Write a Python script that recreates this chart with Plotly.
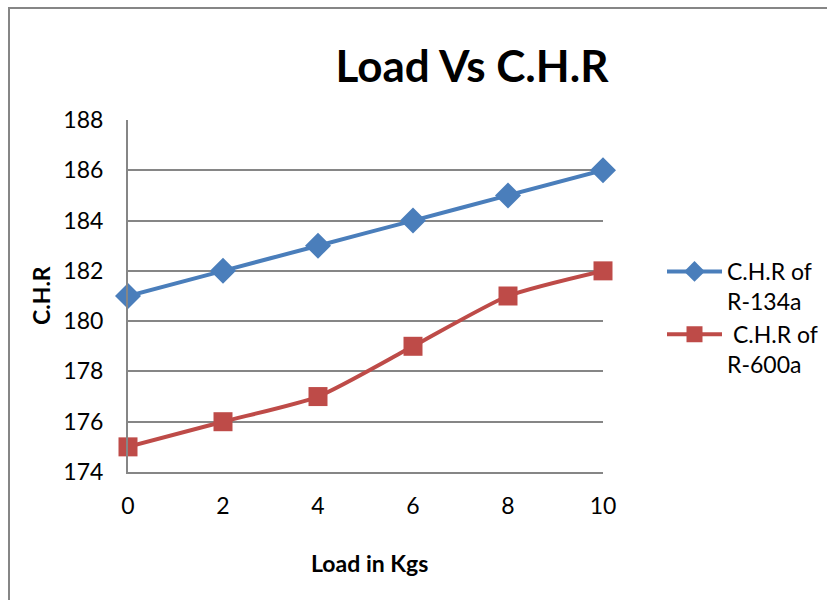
import plotly.graph_objects as go

load = [0, 2, 4, 6, 8, 10]
chr_r134a = [181, 182, 183, 184, 185, 186]
chr_r600a = [175, 176, 177, 179, 181, 182]
y_ticks = [174, 176, 178, 180, 182, 184, 186, 188]
x_ticks = [0, 2, 4, 6, 8, 10]

W, H = 827, 600
L, R, T, B = 128, 603, 120, 472
pw, ph = R - L, B - T

def px(x):
    return (x - L) / pw

def py(y):
    return (B - y) / ph

FONT = "Lato, 'Open Sans', sans-serif"

fig = go.Figure()
fig.add_trace(go.Scatter(
    x=load, y=chr_r134a, mode="lines+markers", name="C.H.R of<br>R-134a",
    line=dict(color="#4A7EBB", width=4, shape="spline", smoothing=0.5),
    marker=dict(symbol="diamond", size=20, color="#4A7EBB"),
    cliponaxis=False,
))
fig.add_trace(go.Scatter(
    x=load, y=chr_r600a, mode="lines+markers", name=" C.H.R of<br>R-600a",
    line=dict(color="#BE4B48", width=4, shape="spline", smoothing=0.6),
    marker=dict(symbol="square", size=19, color="#BE4B48"),
    cliponaxis=False,
))

fig.update_layout(
    width=W, height=H,
    margin=dict(l=L, r=W - R, t=T, b=H - B, pad=0, autoexpand=False),
    paper_bgcolor="white", plot_bgcolor="white",
    font=dict(family=FONT, size=23, color="black"),
    title=dict(text="<b>Load Vs C.H.R</b>", x=472 / W, xanchor="center",
               y=1 - 67 / H, yanchor="middle", xref="container", yref="container",
               font=dict(size=44, family=FONT, color="black")),
    xaxis=dict(range=[0, 10], tickvals=x_ticks, showgrid=False, zeroline=False,
               showline=True, linecolor="#868686", linewidth=2, ticks="",
               ticklabelstandoff=12, tickfont=dict(size=23)),
    yaxis=dict(range=[174, 188], tickvals=y_ticks, showgrid=True, gridcolor="#868686",
               gridwidth=1.5, zeroline=False, showline=True, linecolor="#868686",
               linewidth=2, ticks="", ticklabelstandoff=18, tickfont=dict(size=23)),
    legend=dict(x=px(662), y=py(250), xanchor="left", yanchor="top",
                font=dict(size=23, family=FONT), itemwidth=55, tracegroupgap=9,
                valign="top", bgcolor="rgba(0,0,0,0)"),
    showlegend=True,
)

fig.add_annotation(text="<b>Load in Kgs</b>", x=px(369), y=py(563), xref="paper", yref="paper",
                   showarrow=False, font=dict(size=23, family=FONT), xanchor="center", yanchor="middle")
fig.add_annotation(text="<b>C.H.R</b>", x=px(41), y=py(296), xref="paper", yref="paper",
                   showarrow=False, textangle=-90, font=dict(size=23, family=FONT),
                   xanchor="center", yanchor="middle")

fig.add_shape(type="rect", xref="paper", yref="paper",
              x0=px(9), x1=px(840), y0=py(8), y1=py(610),
              line=dict(color="#868686", width=2), layer="below")

fig.write_html("out.html")
